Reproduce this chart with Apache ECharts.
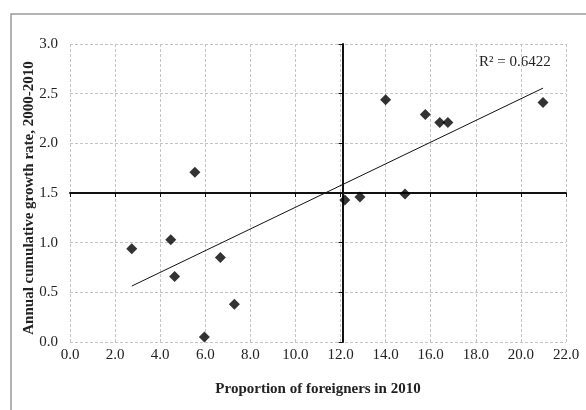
<!DOCTYPE html>
<html>
<head>
<meta charset="utf-8">
<script src="https://cdn.jsdelivr.net/npm/echarts@6/dist/echarts.min.js"></script>
<style>
  html, body { margin: 0; padding: 0; background: #fff; }
  #chart { width: 586px; height: 410px; }
</style>
</head>
<body>
<div id="chart"></div>
<script>
// Proportion of foreigners in 2010 (%)
const foreignShare = [2.74, 4.47, 4.64, 5.54, 5.96, 6.67, 7.29, 12.19, 12.86, 14.0, 14.86, 15.76, 16.4, 16.76, 20.98];
// Annual cumulative growth rate, 2000-2010 (%)
const growthRate = [0.94, 1.03, 0.66, 1.71, 0.05, 0.85, 0.38, 1.43, 1.46, 2.44, 1.49, 2.29, 2.21, 2.21, 2.41];

const xTicks = { min: 0, max: 22, step: 2 };
const yTicks = { min: 0, max: 3, step: 0.5 };
const crossX = 12;   // vertical reference line
const crossY = 1.5;  // horizontal reference line
const xTitle = 'Proportion of foreigners in 2010';
const yTitle = 'Annual cumulative growth rate, 2000-2010';
const r2Text = 'R² = 0.6422';

// least-squares trend line over the observed x range
function linearFit(xs, ys) {
  const n = xs.length;
  const mx = xs.reduce((a, b) => a + b, 0) / n;
  const my = ys.reduce((a, b) => a + b, 0) / n;
  let sxy = 0, sxx = 0;
  for (let i = 0; i < n; i++) { sxy += (xs[i] - mx) * (ys[i] - my); sxx += (xs[i] - mx) ** 2; }
  const slope = sxy / sxx;
  return { slope, intercept: my - slope * mx };
}
const fit = linearFit(foreignShare, growthRate);
const xLo = Math.min(...foreignShare), xHi = Math.max(...foreignShare);
const trend = [[xLo, fit.intercept + fit.slope * xLo], [xHi, fit.intercept + fit.slope * xHi]];
const points = foreignShare.map((x, i) => [x, growthRate[i]]);

const grid = { left: 70, right: 20, top: 44, bottom: 68 };
const plotW = 586 - grid.left - grid.right;
const plotH = 410 - grid.top - grid.bottom;
const serif = 'Liberation Serif, Times New Roman, serif';

const gridLine = { show: true, lineStyle: { color: '#c4c4c4', type: [3, 2], width: 1 } };

const chart = echarts.init(document.getElementById('chart'), null, { renderer: 'canvas' });
chart.setOption({
  animation: false,
  backgroundColor: '#fff',
  grid: grid,
  xAxis: [
    {
      type: 'value', min: xTicks.min, max: xTicks.max, interval: xTicks.step,
      position: 'bottom',
      axisLine: { show: false }, axisTick: { show: false },
      axisLabel: { formatter: v => v.toFixed(1), fontFamily: serif, fontSize: 15, color: '#222', margin: 6 },
      splitLine: gridLine,
      name: xTitle, nameLocation: 'middle', nameGap: 40,
      nameTextStyle: { fontFamily: serif, fontSize: 15, fontWeight: 'bold', color: '#222' }
    },
    {
      type: 'value', min: xTicks.min, max: xTicks.max, interval: xTicks.step,
      position: 'bottom',
      offset: -plotH * (crossY - yTicks.min) / (yTicks.max - yTicks.min),
      axisLine: { show: true, onZero: false, lineStyle: { color: '#111', width: 2 } },
      axisTick: { show: true, inside: false, length: 4, lineStyle: { color: '#111', width: 1 } },
      axisLabel: { show: false }, splitLine: { show: false }
    }
  ],
  yAxis: [
    {
      type: 'value', min: yTicks.min, max: yTicks.max, interval: yTicks.step,
      position: 'left',
      axisLine: { show: false }, axisTick: { show: false },
      axisLabel: { formatter: v => v.toFixed(1), fontFamily: serif, fontSize: 15, color: '#222', margin: 12 },
      splitLine: gridLine
    },
    {
      type: 'value', min: yTicks.min, max: yTicks.max, interval: yTicks.step,
      position: 'left',
      offset: -plotW * (crossX - xTicks.min) / (xTicks.max - xTicks.min) - 2,
      axisLine: { show: true, onZero: false, lineStyle: { color: '#111', width: 2 } },
      axisTick: { show: true, inside: false, length: 4, lineStyle: { color: '#111', width: 1 } },
      axisLabel: { show: false }, splitLine: { show: false }
    }
  ],
  series: [
    {
      type: 'line', data: trend, xAxisIndex: 0, yAxisIndex: 0,
      symbol: 'none', silent: true,
      lineStyle: { color: '#111', width: 1 }, z: 3
    },
    {
      type: 'scatter', data: points, xAxisIndex: 0, yAxisIndex: 0,
      symbol: 'diamond', symbolSize: 11,
      itemStyle: { color: '#000' }, z: 4
    }
  ],
  graphic: [
    {
      type: 'polyline', silent: true,
      shape: { points: [[11, 410], [11, 14], [586, 14]] },
      style: { stroke: '#9a9a9a', lineWidth: 1.5, fill: null }
    },
    {
      type: 'text', x: 29, y: 198, rotation: Math.PI / 2,
      style: {
        text: yTitle, fontFamily: serif, fontSize: 15, fontWeight: 'bold', fill: '#222',
        align: 'center', verticalAlign: 'middle'
      }
    },
    {
      type: 'text', left: 479, top: 55,
      style: { text: r2Text, fontFamily: serif, fontSize: 15, fill: '#222' }
    }
  ]
});
</script>
</body>
</html>
